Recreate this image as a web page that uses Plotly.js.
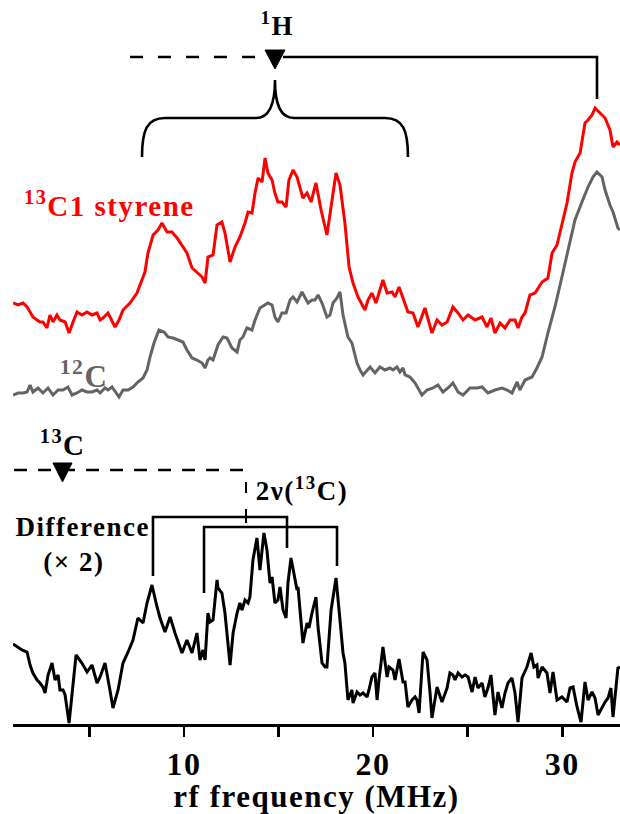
<!DOCTYPE html>
<html>
<head>
<meta charset="utf-8">
<script src="https://cdn.plot.ly/plotly-3.0.1.min.js"></script>
<style>
  html, body { margin: 0; padding: 0; background: #fff; }
  #chart { width: 620px; height: 814px; }
  .main-svg text { letter-spacing: 1.5px; }
</style>
</head>
<body>
<div id="chart"></div>
<script>
// ---------- DATA (frequency in MHz, intensity in arbitrary units) ----------
const redFreq = [0.97,1.23,1.50,1.71,1.87,2.02,2.24,2.39,2.55,2.76,2.92,3.08,3.29,3.45,3.72,3.93,4.14,4.35,4.61,4.88,5.14,5.41,5.57,5.72,5.99,6.20,6.36,6.57,6.78,7.15,7.52,7.68,7.94,8.10,8.37,8.63,8.84,9.11,9.37,9.64,9.90,10.16,10.43,10.69,10.96,11.12,
  11.27,11.54,11.75,12.01,12.17,12.44,12.70,12.96,13.23,13.39,13.60,13.76,13.92,14.13,14.29,14.44,14.66,14.81,14.97,15.18,15.40,15.55,15.77,15.98,16.14,16.29,16.51,16.72,16.98,17.25,17.56,17.83,18.04,18.25,18.51,18.73,18.94,19.20,19.41,19.57,19.73,19.94,20.15,20.52,20.74,21.00,21.16,21.37,21.58,
  21.84,22.11,22.37,22.74,22.90,23.11,23.38,23.64,23.91,24.22,24.49,24.75,25.02,25.39,25.76,26.02,26.23,26.44,26.71,26.97,27.24,27.50,27.66,27.87,28.03,28.29,28.56,28.93,29.24,29.46,29.72,29.98,30.25,30.51,30.67,30.94,31.20,31.36,31.57,31.73,31.99,32.26,32.52,32.68,32.89,33.05];
const redVal = [27,25,27,23,18,13,10,8,8,2,15,8,15,10,8,-3,8,18,15,18,15,17,10,12,17,8,3,10,20,27,37,45,58,77,95,100,107,98,98,92,85,77,62,58,53,47,
  73,75,105,108,97,68,83,93,107,118,117,137,152,148,172,157,150,137,128,128,123,150,160,153,142,132,137,128,147,120,95,130,157,145,107,63,47,33,25,20,30,37,27,50,37,38,33,43,32,
  18,17,3,22,10,-3,10,5,8,23,17,10,15,10,13,3,12,-3,7,2,10,10,2,13,17,35,37,48,52,77,85,107,127,157,168,177,207,210,215,222,217,212,200,183,188,185];

const grayFreq = [0.97,1.23,1.50,1.71,1.87,2.02,2.29,2.55,2.82,3.08,3.35,3.61,3.87,4.09,4.35,4.61,4.88,5.14,5.41,5.57,5.83,5.99,6.20,6.41,6.57,6.78,7.05,7.31,7.57,7.84,8.05,8.21,8.42,8.68,8.95,9.16,9.42,9.69,9.95,10.16,10.43,10.69,10.96,11.12,11.27,
  11.38,11.54,11.80,12.07,12.28,12.54,12.81,12.96,13.12,13.33,13.60,13.76,14.02,14.29,14.44,14.66,14.81,14.97,15.18,15.40,15.61,15.77,15.98,16.24,16.40,16.56,16.77,16.93,17.09,17.30,17.56,17.72,17.88,18.09,18.25,18.41,18.67,18.88,19.15,19.31,19.47,19.68,19.84,20.10,20.36,20.63,20.89,21.05,21.26,21.42,21.58,
  21.69,21.95,22.22,22.58,22.85,23.17,23.43,23.69,23.96,24.22,24.49,24.75,25.12,25.49,25.76,26.07,26.44,26.81,27.08,27.34,27.61,27.76,28.03,28.40,28.66,28.93,29.24,29.61,29.98,30.30,30.67,31.04,31.36,31.62,31.83,32.10,32.26,32.52,32.68,32.94,33.05];
const grayVal = [5,7,7,8,15,8,12,7,12,5,10,10,13,5,7,10,8,8,10,7,12,10,13,7,3,10,10,13,18,22,30,43,57,70,68,63,62,60,58,50,42,40,37,32,40,
  42,40,55,63,62,52,48,60,63,72,70,80,92,95,97,95,83,78,87,87,100,103,98,108,103,97,100,100,105,97,83,85,97,102,108,85,63,57,37,30,25,30,33,27,33,30,32,30,33,28,32,
  25,23,17,5,10,12,15,8,12,17,8,5,12,12,13,7,10,12,10,7,18,10,20,23,32,43,67,93,123,150,180,198,213,223,228,223,210,195,188,172,170];

const diffFreq = [0.97,1.18,1.44,1.71,1.87,2.02,2.24,2.39,2.55,2.66,2.82,3.03,3.19,3.35,3.45,3.61,3.72,3.93,4.14,4.30,4.61,4.88,5.14,5.41,5.57,5.83,6.09,6.25,6.52,6.78,7.05,7.31,7.57,7.84,8.05,8.31,8.58,8.74,9.00,9.27,9.53,9.90,10.16,10.43,10.69,10.85,11.01,11.12,
  11.27,11.38,11.54,11.75,11.80,12.01,12.17,12.44,12.60,12.81,12.96,13.07,13.23,13.39,13.49,13.65,13.86,14.02,14.23,14.39,14.55,14.66,14.81,14.97,15.08,15.24,15.40,15.50,15.66,15.77,15.98,16.03,16.29,16.51,16.61,16.77,16.98,17.09,17.30,17.46,17.56,17.78,18.04,18.20,18.41,18.51,18.67,18.88,18.94,19.15,19.31,19.47,19.68,19.78,19.94,20.10,20.21,20.31,20.52,20.74,20.84,21.05,21.16,21.37,21.58,
  21.69,21.84,22.06,22.22,22.32,22.43,22.64,22.85,23.01,23.11,23.38,23.54,23.64,23.91,24.06,24.22,24.33,24.49,24.70,24.86,25.02,25.23,25.39,25.54,25.76,25.91,26.07,26.23,26.44,26.60,26.81,26.97,27.13,27.34,27.50,27.66,27.87,28.13,28.35,28.50,28.66,28.72,28.93,29.19,29.35,29.51,29.72,29.98,30.25,30.41,30.57,30.78,30.99,31.20,31.36,31.57,31.73,31.89,32.10,32.26,32.42,32.57,32.68,32.94,33.05];
const diffVal = [80,77,74,72,59,51,44,41,37,31,49,61,44,49,34,34,29,1,44,69,61,52,59,41,47,61,34,16,34,61,72,84,106,101,121,139,117,106,92,107,91,71,84,71,91,64,74,64,
  111,102,104,144,136,131,111,59,91,111,121,114,124,121,127,164,186,154,191,174,141,147,121,124,137,114,106,141,166,154,134,137,81,101,96,111,127,97,61,57,57,114,146,114,71,61,24,34,21,32,29,31,27,34,47,51,24,44,77,47,57,54,44,65,42,
  42,17,24,27,24,11,72,64,31,6,37,27,22,36,51,49,44,51,47,49,47,32,47,36,41,27,36,49,9,32,16,31,41,46,31,2,46,57,71,57,59,46,57,51,31,52,24,27,22,36,37,17,2,42,24,32,26,9,17,22,26,36,7,56,57];

const majorTicks = [10, 20, 30];
const majorLabels = ['10', '20', '30'];
const minorTicks = [5, 15, 25];

// ---------- STYLE / POSITION ----------
const RED_OFFSET = 394, GRAY_OFFSET = 324;
const SERIF = 'Liberation Serif';
const L = 13, W = 607, H = 724;          // plot area in pixels
const X = p => (p - L) / W;              // pixel -> paper
const Y = p => (H - p) / H;
const pt = (a, b) => X(a).toFixed(4) + ',' + Y(b).toFixed(4);

const traces = [
  { x: grayFreq, y: grayVal.map(v => v + GRAY_OFFSET), mode: 'lines',
    line: { color: '#646464', width: 3 }, hoverinfo: 'skip' },
  { x: redFreq, y: redVal.map(v => v + RED_OFFSET), mode: 'lines',
    line: { color: '#ff0000', width: 3 }, hoverinfo: 'skip' },
  { x: diffFreq, y: diffVal, mode: 'lines',
    line: { color: '#000000', width: 3 }, hoverinfo: 'skip' }
];

const blk = { color: '#000', width: 2.6 };
const shapes = [
  { type: 'line', xref: 'paper', yref: 'paper', x0: X(130), x1: X(264), y0: Y(57), y1: Y(57),
    line: { color: '#000', width: 2.6, dash: '13px,15px' } },
  { type: 'path', xref: 'paper', yref: 'paper', path: `M${pt(265,50)} L${pt(285,50)} L${pt(275,69)} Z`,
    fillcolor: '#000', line: { color: '#000', width: 1 } },
  { type: 'path', xref: 'paper', yref: 'paper', path: `M${pt(283,57)} L${pt(597,57)} L${pt(597,99)}`,
    line: blk },
  { type: 'path', xref: 'paper', yref: 'paper',
    path: `M${pt(142,157)} C${pt(142,130)} ${pt(147,118)} ${pt(165,118)} L${pt(256,118)} C${pt(269,118)} ${pt(275,106)} ${pt(275,80)} ` +
          `C${pt(275,106)} ${pt(281,118)} ${pt(294,118)} L${pt(385,118)} C${pt(403,118)} ${pt(408,130)} ${pt(408,157)}`,
    line: blk },
  { type: 'line', xref: 'paper', yref: 'paper', x0: X(14), x1: X(248), y0: Y(470), y1: Y(470),
    line: { color: '#000', width: 2.6, dash: '13px,11px' } },
  { type: 'path', xref: 'paper', yref: 'paper', path: `M${pt(53,463)} L${pt(72,463)} L${pt(62.5,482)} Z`,
    fillcolor: '#000', line: { color: '#000', width: 1 } },
  { type: 'line', xref: 'paper', yref: 'paper', x0: X(246), x1: X(246), y0: Y(482), y1: Y(493), line: { color: '#000', width: 2 } },
  { type: 'line', xref: 'paper', yref: 'paper', x0: X(246), x1: X(246), y0: Y(509), y1: Y(523), line: { color: '#000', width: 2 } },
  { type: 'path', xref: 'paper', yref: 'paper', path: `M${pt(153,576)} L${pt(153,517)} L${pt(287,517)} L${pt(287,548)}`, line: blk },
  { type: 'path', xref: 'paper', yref: 'paper', path: `M${pt(204,593)} L${pt(204,527)} L${pt(337,527)} L${pt(337,566)}`, line: blk }
];

function ann(text, px, py, size, color) {
  return { text: '<b>' + text + '</b>', xref: 'paper', yref: 'paper', x: X(px), y: Y(py),
    xanchor: 'center', yanchor: 'middle', showarrow: false,
    font: { family: SERIF, size: size, color: color || '#000' } };
}
const annotations = [
  ann('<sup>1</sup>H', 277, 24, 27),
  ann('<sup>13</sup>C1 styrene', 110, 204, 29, '#ff0000'),
  ann('<sup>12</sup>C', 84, 374, 31, '#646464'),
  ann('<sup>13</sup>C', 63, 443, 29),
  ann('2ν(<sup>13</sup>C)', 302, 489, 27),
  ann('Difference', 82, 527, 27),
  ann('(× 2)', 74, 562, 27)
];

const layout = {
  width: 620, height: 814,
  margin: { l: L, r: 0, t: 0, b: 814 - H },
  paper_bgcolor: '#fff', plot_bgcolor: '#fff',
  showlegend: false,
  font: { family: SERIF },
  xaxis: {
    range: [0.967, 33.05], showgrid: false, zeroline: false,
    showline: true, linecolor: '#000', linewidth: 3,
    ticks: 'outside', ticklen: 10, tickwidth: 2.6, tickcolor: '#000',
    tickmode: 'array', tickvals: majorTicks, ticktext: majorLabels.map(t => '<b>' + t + '</b>'),
    tickfont: { family: SERIF, size: 32, color: '#000' },
    minor: { tickmode: 'array', tickvals: minorTicks, ticks: 'outside', ticklen: 10, tickwidth: 2.6, tickcolor: '#000', showgrid: false },
    title: { text: '<b>rf frequency (MHz)</b>', standoff: 4,
      font: { family: SERIF, size: 31, color: '#000' } }
  },
  yaxis: { range: [0, H], visible: false, fixedrange: true },
  shapes: shapes,
  annotations: annotations
};

Plotly.newPlot('chart', traces, layout, { staticPlot: true, displayModeBar: false });
</script>
</body>
</html>
